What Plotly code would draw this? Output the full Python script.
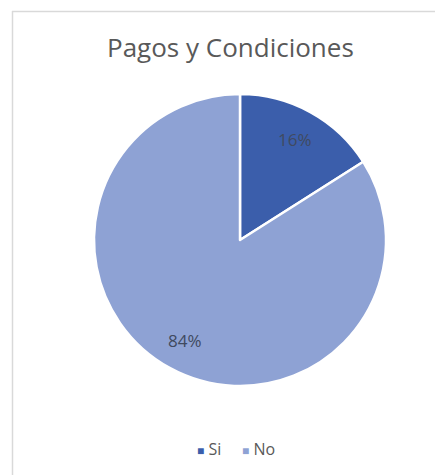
import math
import plotly.graph_objects as go

# Survey answers for "Pagos y Condiciones"
labels = ["Si", "No"]
shares = [16, 84]
slice_colors = ["#3B5EAB", "#8EA2D4"]

W, H = 435, 475
cx, cy, r = 240, 240, 146
FONT = "Open Sans, sans-serif"

fig = go.Figure(
    go.Pie(
        labels=labels,
        values=shares,
        sort=False,
        direction="clockwise",
        rotation=0,
        marker=dict(colors=slice_colors, line=dict(color="white", width=2.5)),
        textinfo="none",
        domain=dict(
            x=[(cx - r) / W, (cx + r) / W],
            y=[(H - cy - r) / H, (H - cy + r) / H],
        ),
        hoverinfo="label+percent",
        showlegend=False,
    )
)

# Percentage labels placed at each slice's mid-angle, inside the pie
annotations = []
total = sum(shares)
start = 0.0
for val in shares:
    mid = (start + val / 2) / total * 2 * math.pi
    start += val
    px = cx + 0.785 * r * math.sin(mid)
    py = cy - 0.785 * r * math.cos(mid)
    annotations.append(
        dict(
            text=f"{round(val / total * 100)}%",
            x=px / W,
            y=1 - py / H,
            xref="paper",
            yref="paper",
            xanchor="center",
            yanchor="middle",
            showarrow=False,
            font=dict(family=FONT, size=17, color="#404a60"),
        )
    )

# Title
annotations.append(
    dict(
        text="Pagos y Condiciones",
        x=231 / W,
        y=1 - 47 / H,
        xref="paper",
        yref="paper",
        xanchor="center",
        yanchor="middle",
        showarrow=False,
        font=dict(family=FONT, size=26, color="#595959"),
    )
)

# Legend row: colored squares followed by category names
legend_text = "&nbsp;&nbsp;&nbsp;&nbsp;&nbsp;".join(
    f"<span style='color:{c};font-size:12px'>■</span> {lab}"
    for lab, c in zip(labels, slice_colors)
)
annotations.append(
    dict(
        text=legend_text,
        x=236 / W,
        y=1 - 449 / H,
        xref="paper",
        yref="paper",
        xanchor="center",
        yanchor="middle",
        showarrow=False,
        font=dict(family=FONT, size=16, color="#595959"),
    )
)

fig.update_layout(
    width=W,
    height=H,
    margin=dict(l=0, r=0, t=0, b=0),
    paper_bgcolor="white",
    plot_bgcolor="white",
    annotations=annotations,
    shapes=[
        dict(type="line", xref="paper", yref="paper",
             x0=12 / W, x1=1, y0=1 - 11.5 / H, y1=1 - 11.5 / H,
             line=dict(color="#d9d9d9", width=1.5)),
        dict(type="line", xref="paper", yref="paper",
             x0=12.5 / W, x1=12.5 / W, y0=0, y1=1 - 11 / H,
             line=dict(color="#d9d9d9", width=1.5)),
    ],
)

fig.write_html("out.html")
